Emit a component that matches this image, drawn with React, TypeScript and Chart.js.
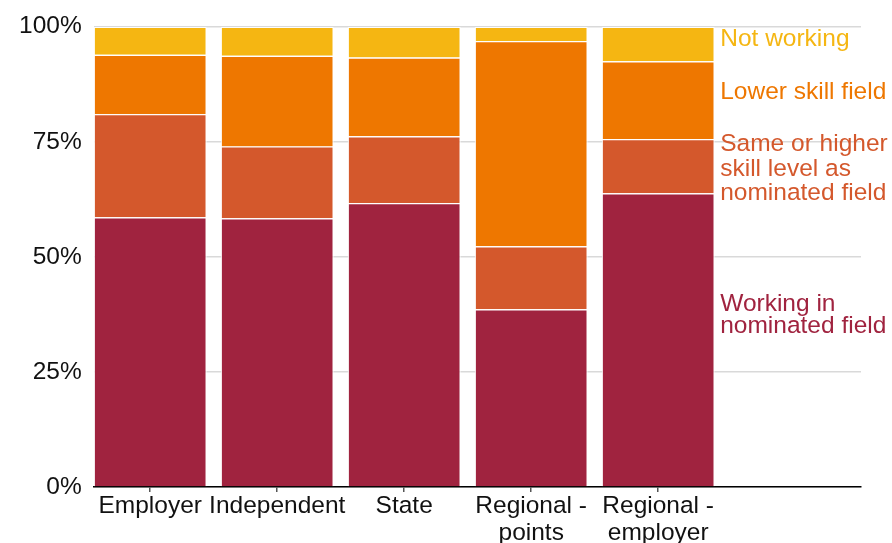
import React, { useEffect, useRef } from "react";
import { Chart, registerables } from "chart.js";

Chart.register(...registerables);

// Visa streams along the x axis
const categories: string[][] = [
  ["Employer"],
  ["Independent"],
  ["State"],
  ["Regional -", "points"],
  ["Regional -", "employer"],
];

// Share of each stream by employment outcome (%)
const working = [58.6, 58.4, 61.7, 38.6, 63.8];
const sameOrHigher = [22.4, 15.6, 14.5, 13.7, 11.8];
const lowerSkill = [12.9, 19.7, 17.1, 44.6, 16.9];
const notWorking = [6.1, 6.3, 6.7, 3.1, 7.5];

const seriesNames: string[][] = [
  ["Working in", "nominated field"],
  ["Same or higher", "skill level as", "nominated field"],
  ["Lower skill field"],
  ["Not working"],
];

const yTicks = [0, 25, 50, 75, 100];

const COLORS = ["#A0233F", "#D4582C", "#EE7700", "#F5B612"];
const FONT = "'Liberation Sans', Arial, Helvetica, sans-serif";
const FONT_SIZE = 24.5;

// Direct labels beside the last bar: vertical nudge (px) and line spacing per series
const LABEL_NUDGE = [-25, 3, -8, -4.5];
const LABEL_LINE = [22, 24.5, 24, 24];

const sideLabels = {
  id: "sideLabels",
  afterDatasetsDraw(chart: any) {
    const ctx: CanvasRenderingContext2D = chart.ctx;
    const last = categories.length - 1;
    ctx.save();
    ctx.font = `${FONT_SIZE}px ${FONT}`;
    ctx.textBaseline = "middle";
    ctx.textAlign = "left";
    chart.data.datasets.forEach((_ds: any, i: number) => {
      const bar = chart.getDatasetMeta(i).data[last];
      const p = bar.getProps(["x", "y", "base", "width"], true);
      const mid = (p.y + p.base) / 2 + LABEL_NUDGE[i];
      const lines = seriesNames[i];
      const lh = LABEL_LINE[i];
      const x0 = p.x + p.width / 2 + 5.5;
      ctx.fillStyle = COLORS[i];
      lines.forEach((t, k) => {
        ctx.fillText(t, x0, mid + (k - (lines.length - 1) / 2) * lh);
      });
    });
    ctx.restore();
  },
};

export default function App() {
  const ref = useRef<HTMLCanvasElement | null>(null);

  useEffect(() => {
    if (!ref.current) return;
    const toPoints = (arr: number[]) => arr.map((v, i) => ({ x: i, y: v }));
    const series = [working, sameOrHigher, lowerSkill, notWorking];

    const chart = new Chart(ref.current, {
      type: "bar",
      data: {
        datasets: series.map((arr, i) => ({
          label: seriesNames[i].join(" "),
          data: toPoints(arr),
          backgroundColor: COLORS[i],
          borderColor: "rgba(255,255,255,0.9)",
          borderWidth: 1.2,
          barPercentage: 0.89,
          categoryPercentage: 1,
        })),
      },
      options: {
        animation: false,
        responsive: true,
        maintainAspectRatio: false,
        layout: { padding: { top: 24.7, right: 31, left: 0, bottom: 0 } },
        plugins: {
          legend: { display: false },
          tooltip: { enabled: false },
        },
        scales: {
          x: {
            type: "linear",
            stacked: true,
            offset: false,
            // first bar sits flush with the y axis; empty room on the right for labels
            min: -0.445,
            max: categories.length + 0.597,
            afterBuildTicks: (scale: any) => {
              scale.ticks = categories.map((_, i) => ({ value: i }));
            },
            afterFit: (scale: any) => {
              scale.height = 56;
            },
            ticks: {
              autoSkip: false,
              maxRotation: 0,
              minRotation: 0,
              padding: 1,
              color: "#111",
              font: { family: FONT, size: FONT_SIZE, lineHeight: 1.1 },
              callback: (v: any) => categories[Math.round(Number(v))] ?? "",
            },
            grid: {
              offset: false,
              drawOnChartArea: false,
              drawTicks: true,
              tickLength: 5,
              color: "#555",
              lineWidth: 1.5,
            },
            border: { display: true, color: "#000", width: 1.5 },
          },
          y: {
            stacked: true,
            min: 0,
            max: 100,
            afterBuildTicks: (scale: any) => {
              scale.ticks = yTicks.map((v) => ({ value: v }));
            },
            afterFit: (scale: any) => {
              scale.width = 93.7;
            },
            ticks: {
              padding: 12,
              color: "#111",
              font: { family: FONT, size: FONT_SIZE },
              callback: (v: any) => `${v}%`,
            },
            grid: {
              color: "#d9d9d9",
              lineWidth: 1.5,
              drawTicks: false,
            },
            border: { display: false },
          },
        },
      },
      plugins: [sideLabels],
    } as any);

    return () => chart.destroy();
  }, []);

  return (
    <div style={{ position: "fixed", left: 0, top: 0, width: 892, height: 543, background: "#fff" }}>
      <canvas ref={ref} />
    </div>
  );
}
